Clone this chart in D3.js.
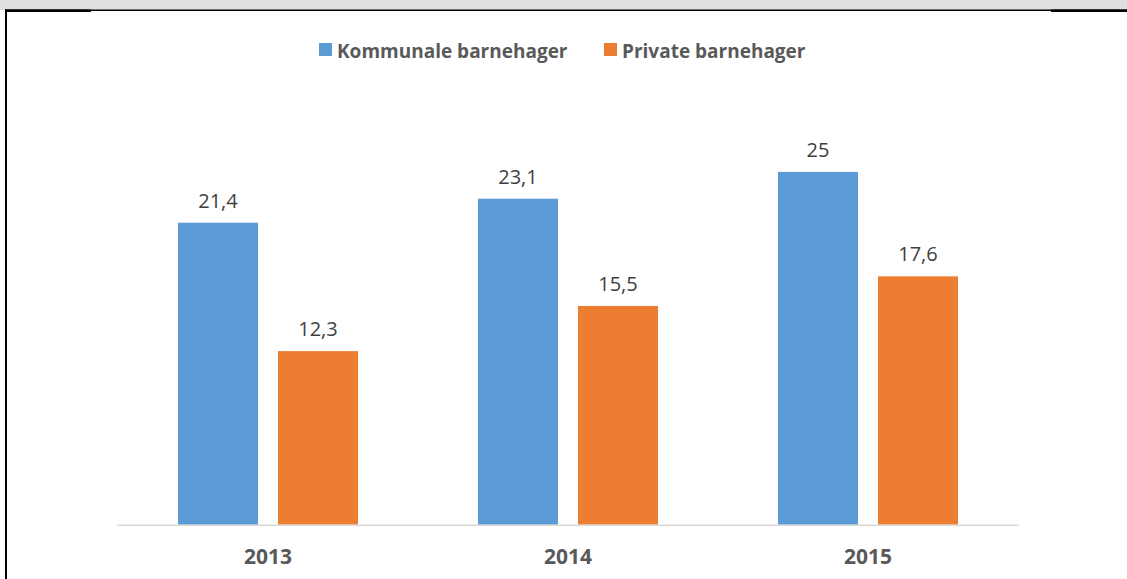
<!DOCTYPE html>
<html>
<head>
<meta charset="utf-8">
<script src="https://cdn.jsdelivr.net/npm/d3@7"></script>
<style>
  body { margin: 0; background: #fff; }
  svg { display: block; font-family: "Open Sans", sans-serif; }
</style>
</head>
<body>
<svg id="fig" width="1127" height="579"></svg>
<script>
const years = ["2013", "2014", "2015"];
const seriesNames = ["Kommunale barnehager", "Private barnehager"];
const kommunale = [21.4, 23.1, 25];
const privat = [12.3, 15.5, 17.6];
const colors = ["#5b9bd5", "#ed7d31"];

const svg = d3.select("#fig");

// page frame (table cell look)
svg.append("rect").attr("x", 0).attr("y", 0).attr("width", 1127).attr("height", 10).attr("fill", "#dfdfdf");
svg.append("rect").attr("x", 5).attr("y", 9.5).attr("width", 1122).attr("height", 1.5).attr("fill", "#000");
svg.append("rect").attr("x", 5).attr("y", 9.5).attr("width", 86).attr("height", 2.5).attr("fill", "#000");
svg.append("rect").attr("x", 1051).attr("y", 9.5).attr("width", 76).attr("height", 2.5).attr("fill", "#000");
svg.append("rect").attr("x", 5).attr("y", 9.5).attr("width", 2).attr("height", 570).attr("fill", "#000");

const baseY = 524.7;
const x0 = d3.scaleBand().domain(years).range([118, 1018]);
const x1 = d3.scaleBand().domain(seriesNames).range([60, 240]).paddingInner(0.2);
const y = d3.scaleLinear().domain([0, 25]).range([baseY, 171.9]);

const table = years.map((yr, i) => ({
  year: yr,
  values: [
    {name: seriesNames[0], v: kommunale[i], c: colors[0]},
    {name: seriesNames[1], v: privat[i], c: colors[1]}
  ]
}));

const groups = svg.append("g").selectAll("g")
  .data(table)
  .enter().append("g")
  .attr("transform", d => `translate(${x0(d.year)},0)`);

groups.selectAll("rect")
  .data(d => d.values)
  .enter().append("rect")
  .attr("x", d => x1(d.name))
  .attr("width", x1.bandwidth())
  .attr("y", d => y(d.v))
  .attr("height", d => baseY - y(d.v))
  .attr("fill", d => d.c);

groups.selectAll("text")
  .data(d => d.values)
  .enter().append("text")
  .attr("x", d => x1(d.name) + x1.bandwidth() / 2)
  .attr("y", d => y(d.v) - 15)
  .attr("text-anchor", "middle")
  .attr("font-size", 20)
  .attr("fill", "#404040")
  .text(d => String(d.v).replace(".", ","));

// axis
svg.append("line")
  .attr("x1", 117).attr("x2", 1019)
  .attr("y1", baseY + 0.5).attr("y2", baseY + 0.5)
  .attr("stroke", "#d9d9d9").attr("stroke-width", 1.5);

svg.append("g").selectAll("text")
  .data(years)
  .enter().append("text")
  .attr("x", d => x0(d) + x0.bandwidth() / 2)
  .attr("y", 564)
  .attr("text-anchor", "middle")
  .attr("font-size", 21)
  .attr("font-weight", "bold")
  .attr("fill", "#595959")
  .text(d => d);

// legend
const legendX = [319, 604];
const legend = svg.append("g");
legend.selectAll("rect")
  .data(seriesNames)
  .enter().append("rect")
  .attr("x", (d, i) => legendX[i])
  .attr("y", 43)
  .attr("width", 13).attr("height", 13)
  .attr("fill", (d, i) => colors[i]);
legend.selectAll("text")
  .data(seriesNames)
  .enter().append("text")
  .attr("x", (d, i) => legendX[i] + 18)
  .attr("y", 57.5)
  .attr("font-size", 19)
  .attr("font-weight", "bold")
  .attr("fill", "#595959")
  .text(d => d);
</script>
</body>
</html>
